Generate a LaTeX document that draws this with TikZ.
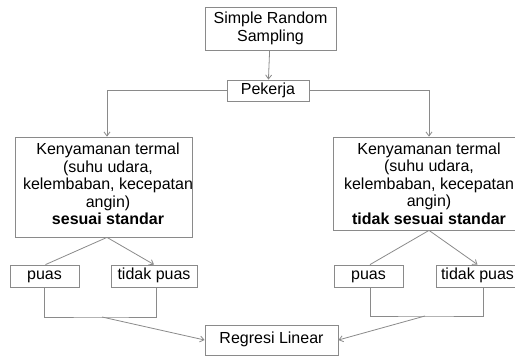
\documentclass[tikz,border=0pt]{standalone}
\usepackage{fontspec}
\setmainfont{Liberation Sans}
\usetikzlibrary{arrows.meta}
\definecolor{ln}{HTML}{8A8A8A}
\tikzset{
  box/.style={draw=ln, line width=0.8pt, inner sep=0pt, align=center, font=\fontsize{16}{17.5}\selectfont},
  sbox/.style={draw=ln, line width=0.8pt, inner sep=0pt, text height=11.5pt, text depth=3.5pt, font=\fontsize{16}{17.5}\selectfont},
  txt/.style={inner sep=0pt, align=center, font=\fontsize{16}{17.5}\selectfont},
  con/.style={draw=ln, line width=0.8pt},
  arr/.style={con, -{Straight Barb[length=4pt,width=6pt]}}
}
\begin{document}
\begin{tikzpicture}[x=1pt,y=-1pt]
\useasboundingbox (0,0) rectangle (515,358);
\clip (0,0) rectangle (515,358);
% top
\node[box, minimum width=131pt, minimum height=43pt] (S) at (270.5,28.5) {Simple Random\\Sampling};
\node[sbox, minimum width=82pt, minimum height=21pt] (P) at (268,90.5) {Pekerja};
% left branch
\node[box, minimum width=177pt, minimum height=100pt] (L) at (103.5,187) {};
\node[txt] (Lt) at (108,184) {Kenyamanan termal\\(suhu udara,\\kelembaban, kecepatan\\angin)\\\textbf{sesuai standar}};
\node[sbox, minimum width=69pt, minimum height=22pt] (LP) at (44.5,276) {puas};
\node[sbox, minimum width=86pt, minimum height=22pt] (LT) at (154,276) {tidak puas};
% right branch
\node[box, minimum width=192pt, minimum height=93pt] (Rb) at (429,183.5) {};
\node[txt] (Rt) at (429,183.5) {Kenyamanan termal\\(suhu udara,\\kelembaban, kecepatan\\angin)\\\textbf{tidak sesuai standar}};
\node[sbox, minimum width=69pt, minimum height=22pt] (RP) at (368.5,276) {puas};
\node[sbox, minimum width=83pt, minimum height=22pt] (RT) at (477.5,276) {tidak puas};
% bottom
\node[sbox, minimum width=133pt, minimum height=30pt] (G) at (271.5,340) {Regresi Linear};
\coordinate (lm) at (102,317);
\coordinate (rm) at (425,316);
% connectors
\draw[arr] (S) -- (P);
\draw[arr] (P.west) -| ([xshift=3.5pt]L.north);
\draw[arr] (P.east) -| (Rb.north);
\draw[con] ([xshift=3.5pt]L.south) -- ([xshift=1pt]LP.north);
\draw[arr] ([xshift=3.5pt]L.south) -- (LT.north);
\draw[con] (Rb.south) -- ([xshift=1.5pt]RP.north);
\draw[arr] (Rb.south) -- (RT.north);
\draw[con] (LP.south) |- (lm) -| ([xshift=2pt]LT.south);
\draw[con] ([xshift=1.5pt]RP.south) |- (rm) -| ([xshift=5.5pt]RT.south);
\draw[arr] (lm) -- (G.west);
\draw[arr] (rm) -- (G.east);
\end{tikzpicture}
\end{document}
